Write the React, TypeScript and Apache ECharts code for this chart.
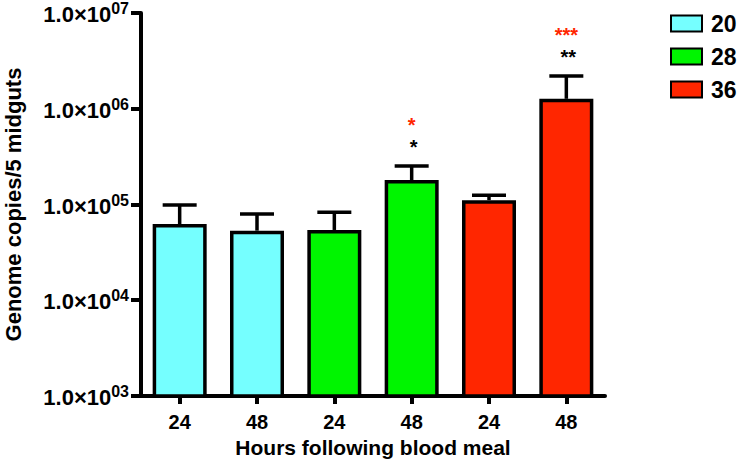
import React, { useEffect, useRef } from "react";
import * as echarts from "echarts";

const categories = ["24", "48", "24", "48", "24", "48"];
const groups = ["20", "28", "36"];
const groupColors = ["#75FFFF", "#00F500", "#FF2600"];
const groupOfBar = [0, 0, 1, 1, 2, 2];
const means = [62600, 53300, 54200, 180000, 111000, 1270000];
const errorTops = [99000, 79600, 83000, 252000, 125000, 2200000];
const sigBlack = ["", "", "", "*", "", "**"];
const sigRed = ["", "", "", "*", "", "***"];
const yMin = 1e3;
const yMax = 1e7;

const FONT = '"Liberation Sans", Arial, Helvetica, sans-serif';

export default function App() {
  const ref = useRef<HTMLDivElement>(null);
  useEffect(() => {
    if (!ref.current) return;
    const chart = echarts.init(ref.current, undefined, { renderer: "svg" });
    const barSeries = groups.map((g, gi) => ({
      type: "bar",
      name: g,
      data: means.map((m, i) => (groupOfBar[i] === gi ? m : "-")),
      barWidth: 54,
      barGap: "-100%",
      itemStyle: { color: groupColors[gi], borderColor: "#000", borderWidth: 3.5 },
      z: 3,
    }));
    const errSeries = {
      type: "custom",
      data: means.map((m, i) => [i, m, errorTops[i]]),
      z: 2,
      renderItem: (params: any, api: any) => {
        const i = params.dataIndex;
        const top = api.coord([api.value(0), api.value(2)]);
        const base = api.coord([api.value(0), api.value(1)]);
        const x = top[0];
        const ty = top[1];
        const lw = 3.5;
        return {
          type: "group",
          children: [
            { type: "line", shape: { x1: x, y1: base[1], x2: x, y2: ty }, style: { stroke: "#000", lineWidth: lw } },
            { type: "line", shape: { x1: x - 17, y1: ty, x2: x + 17, y2: ty }, style: { stroke: "#000", lineWidth: lw } },
            {
              type: "text",
              style: { text: sigBlack[i], x: x + 2, y: ty - 19, align: "center", verticalAlign: "middle", fill: "#000", font: `bold 20px ${FONT}`, lineHeight: 18 },
            },
            {
              type: "text",
              style: { text: sigRed[i], x: x, y: ty - 41, align: "center", verticalAlign: "middle", fill: "#FF2600", font: `bold 20px ${FONT}`, lineHeight: 18 },
            },
          ],
        };
      },
    };
    chart.setOption({
      animation: false,
      backgroundColor: "#fff",
      grid: { left: 141, right: 134, top: 13, bottom: 74, outerBoundsMode: "none", containLabel: false },
      legend: {
        orient: "vertical",
        left: 665,
        top: 7,
        itemWidth: 31,
        itemHeight: 16,
        itemGap: 10,
        icon: "rect",
        data: groups,
        textStyle: { fontSize: 23, fontWeight: "bold", fontFamily: FONT, color: "#000", padding: [0, 0, 0, 4] },
      },
      xAxis: {
        type: "category",
        data: categories,
        name: "Hours following blood meal",
        nameLocation: "middle",
        nameGap: 41,
        nameTextStyle: { fontSize: 21, fontWeight: "bold", fontFamily: FONT, color: "#000" },
        axisLine: { show: true, lineStyle: { color: "#000", width: 4 } },
        axisTick: { show: true, alignWithLabel: true, length: 8, lineStyle: { color: "#000", width: 4 } },
        axisLabel: { fontSize: 20, fontWeight: "bold", fontFamily: FONT, color: "#000", margin: 16 },
        splitLine: { show: false },
      },
      yAxis: {
        type: "log",
        logBase: 10,
        min: yMin,
        max: yMax,
        name: "Genome copies/5 midguts",
        nameLocation: "middle",
        nameGap: 117,
        nameTextStyle: { fontSize: 22, fontWeight: "bold", fontFamily: FONT, color: "#000", lineHeight: 22 },
        axisLine: { show: true, lineStyle: { color: "#000", width: 4 } },
        axisTick: { show: true, length: 10, lineStyle: { color: "#000", width: 4 } },
        splitLine: { show: false },
        minorTick: { show: false },
        axisLabel: {
          margin: 12,
          formatter: (v: number) => {
            const e = Math.round(Math.log10(v));
            return `{m|1.0×10}{s|${String(e).padStart(2, "0")}}`;
          },
          rich: {
            m: { fontSize: 22, fontWeight: "bold", fontFamily: FONT, color: "#000", lineHeight: 25, verticalAlign: "bottom" },
            s: { fontSize: 16, fontWeight: "bold", fontFamily: FONT, color: "#000", lineHeight: 16, verticalAlign: "top" },
          },
        },
      },
      series: [...barSeries, errSeries],
    });
    return () => chart.dispose();
  }, []);
  return <div ref={ref} style={{ position: "fixed", left: 0, top: 0, width: 739, height: 470 }} />;
}
